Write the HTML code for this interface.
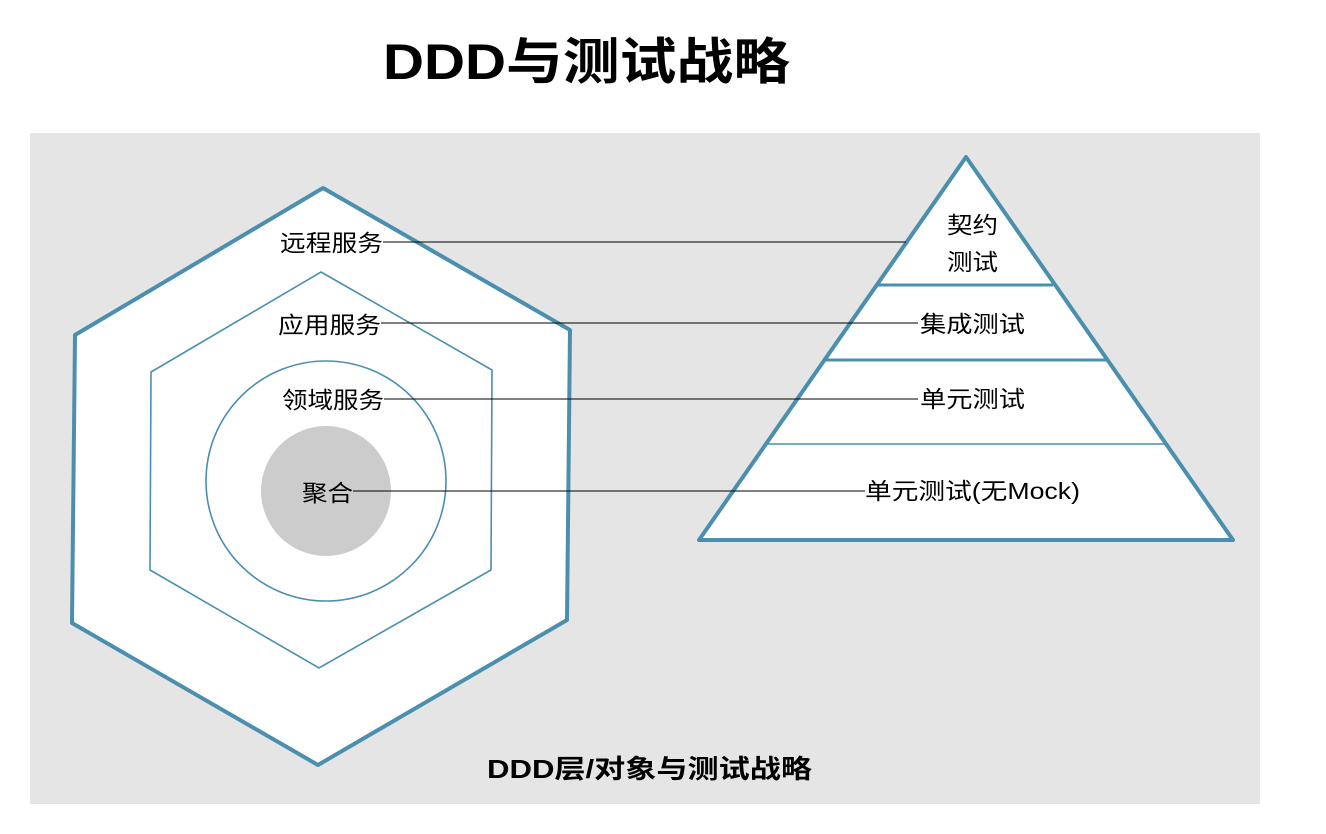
<!DOCTYPE html>
<html><head><meta charset="utf-8">
<style>
html,body{margin:0;padding:0;background:#fff;width:1326px;height:834px;overflow:hidden}
svg{display:block}
text{font-family:"Liberation Sans","Noto Sans CJK SC",sans-serif}
</style></head><body>
<svg width="1326" height="834" viewBox="0 0 1326 834" xmlns="http://www.w3.org/2000/svg">
<rect x="0" y="0" width="1326" height="834" fill="#fff"/>
<text x="383" y="79" textLength="407" lengthAdjust="spacingAndGlyphs" font-size="50" font-weight="bold" fill="#000">DDD与测试战略</text>
<rect x="30" y="133" width="1230" height="671" fill="#e5e5e5"/>
<polygon points="323,188 570,330 567,620 318,765 72,623 75,335" fill="#fff" stroke="#4b8fae" stroke-width="4" stroke-linejoin="round"/>
<polygon points="321,272 492,370 491,570 319,668 150,570 151,372" fill="#fff" stroke="#4b8fae" stroke-width="1.6"/>
<circle cx="326" cy="481" r="120" fill="#fff" stroke="#4b8fae" stroke-width="1.6"/>
<circle cx="326" cy="491" r="65" fill="#cccccc"/>
<polygon points="966,157 1233,540 699,540" fill="#fff" stroke="#4b8fae" stroke-width="4" stroke-linejoin="round"/>
<line x1="877" y1="285" x2="1053" y2="285" stroke="#4b8fae" stroke-width="3"/>
<line x1="826" y1="360" x2="1106" y2="360" stroke="#4b8fae" stroke-width="3"/>
<line x1="768" y1="444" x2="1165" y2="444" stroke="#4b8fae" stroke-width="1.6"/>
<g stroke="#000" stroke-width="1">
<line x1="383" y1="242" x2="906" y2="242"/>
<line x1="381" y1="323" x2="918" y2="323"/>
<line x1="384" y1="399" x2="918" y2="399"/>
<line x1="353" y1="491" x2="865" y2="491"/>
</g>
<g font-size="23" fill="#000">
<text x="280" y="251" textLength="103" lengthAdjust="spacingAndGlyphs">远程服务</text>
<text x="278" y="333" textLength="103" lengthAdjust="spacingAndGlyphs">应用服务</text>
<text x="282" y="408" textLength="102" lengthAdjust="spacingAndGlyphs">领域服务</text>
<text x="302" y="501" textLength="51" lengthAdjust="spacingAndGlyphs">聚合</text>
<text x="947" y="233" textLength="51" lengthAdjust="spacingAndGlyphs">契约</text>
<text x="947" y="270" textLength="51" lengthAdjust="spacingAndGlyphs">测试</text>
<text x="920" y="332" textLength="105" lengthAdjust="spacingAndGlyphs">集成测试</text>
<text x="920" y="407" textLength="105" lengthAdjust="spacingAndGlyphs">单元测试</text>
<text x="865" y="499" textLength="215" lengthAdjust="spacingAndGlyphs">单元测试(无Mock)</text>
</g>
<text x="487" y="778" textLength="325" lengthAdjust="spacingAndGlyphs" font-size="26" font-weight="bold" fill="#000">DDD层/对象与测试战略</text>
</svg>
</body></html>
